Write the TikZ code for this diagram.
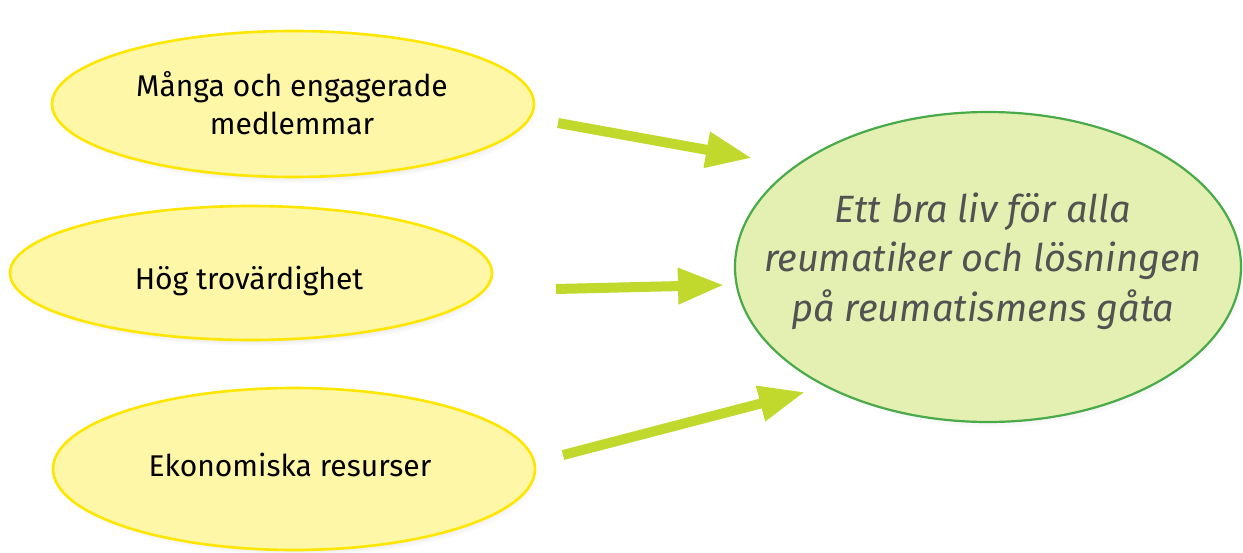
\documentclass[tikz,border=0pt]{standalone}
\usepackage{fontspec}
\setmainfont{Fira Sans}
\usetikzlibrary{arrows.meta,shapes.geometric,shadows}
\definecolor{yfill}{RGB}{255,247,168}
\definecolor{yline}{RGB}{255,230,0}
\definecolor{gfill}{RGB}{228,239,178}
\definecolor{gline}{RGB}{72,170,72}
\definecolor{lime}{RGB}{192,217,44}
\definecolor{tgray}{RGB}{82,82,82}
\tikzset{
  srcell/.style={ellipse, draw=yline, fill=yfill, line width=2.6pt, inner sep=0pt,
    circular drop shadow={shadow xshift=4pt, shadow yshift=-6pt, opacity=0.28, shadow scale=1.0}},
  goalell/.style={ellipse, draw=gline, fill=gfill, line width=2.2pt, inner sep=0pt,
    circular drop shadow={shadow xshift=4pt, shadow yshift=-6pt, opacity=0.28, shadow scale=1.0}},
  srctext/.style={font=\fontsize{30}{38}\selectfont, align=center, text=black},
  goaltext/.style={font=\fontsize{38}{49.5}\selectfont\itshape, align=center, text=tgray},
  bigarrow/.style={draw=lime, line width=10pt, -{Triangle[length=46pt,width=34pt]}}
}
\begin{document}
\begin{tikzpicture}[x=1pt,y=-1pt]
\useasboundingbox (0,0) rectangle (1243,553);
\node[srcell, minimum width=482pt, minimum height=146pt] (e1) at (293,104) {};
\node[srcell, minimum width=482pt, minimum height=134pt] (e2) at (251,273) {};
\node[srcell, minimum width=482pt, minimum height=162pt] (e3) at (294,469) {};
\node[goalell, minimum width=506pt, minimum height=310pt] (goal) at (988,267) {};
\node[srctext] (t1) at (292,103) {Många och engagerade\\medlemmar};
\node[srctext] (t2) at (249,281) {Hög trovärdighet};
\node[srctext] (t3) at (290,465) {Ekonomiska resurser};
\node[goaltext] (tg) at (983,261) {Ett bra liv för alla\\reumatiker och lösningen\\på reumatismens gåta};
\coordinate (a1s) at (558,123);
\coordinate (a1e) at (752,158);
\coordinate (a2s) at (556,289);
\coordinate (a2e) at (724,285);
\coordinate (a3s) at (563,455);
\coordinate (a3e) at (805,392);
\draw[bigarrow] (a1s) -- (a1e);
\draw[bigarrow] (a2s) -- (a2e);
\draw[bigarrow] (a3s) -- (a3e);
\end{tikzpicture}
\end{document}
